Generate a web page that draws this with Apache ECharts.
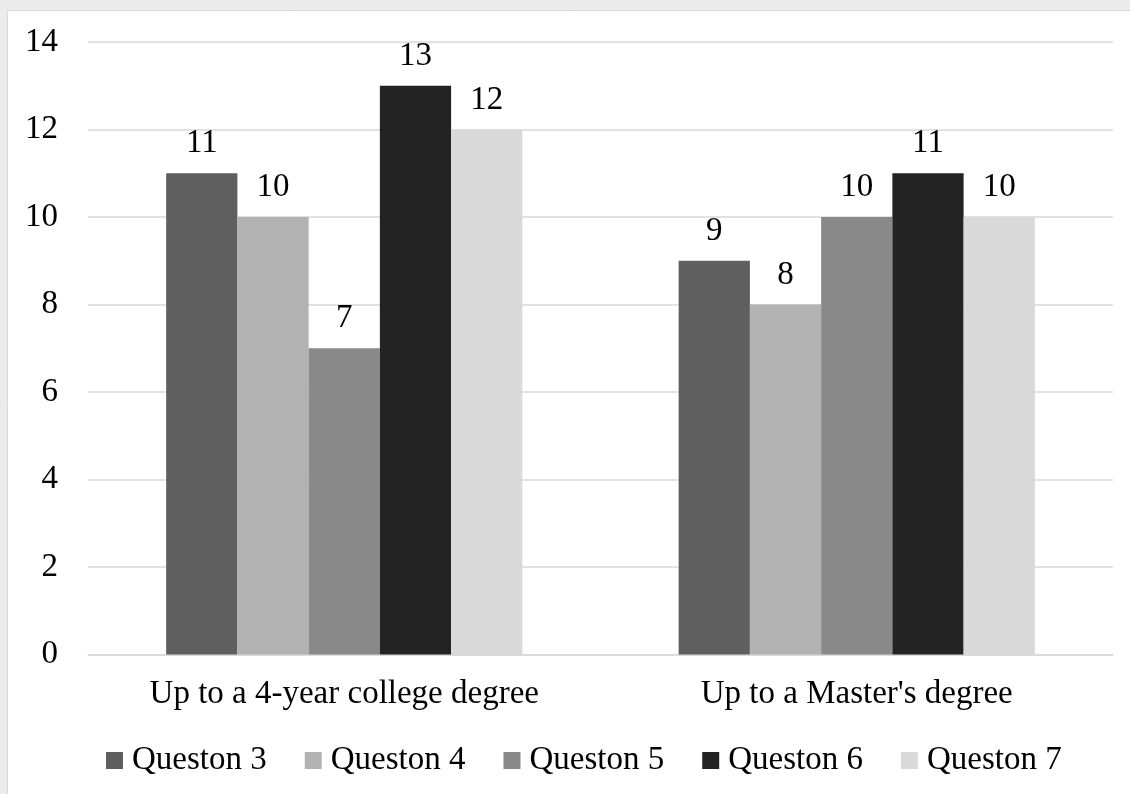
<!DOCTYPE html>
<html>
<head>
<meta charset="utf-8">
<script src="https://cdn.jsdelivr.net/npm/echarts@6/dist/echarts.min.js"></script>
<style>
  html, body { margin: 0; padding: 0; background: #ebebeb; }
  #chart { width: 1130px; height: 794px; }
</style>
</head>
<body>
<div id="chart"></div>
<script>
// Survey counts by education level, one series per question
const categories = ["Up to a 4-year college degree", "Up to a Master's degree"];
const seriesNames = ["Queston 3", "Queston 4", "Queston 5", "Queston 6", "Queston 7"];
const q3 = [11, 9];
const q4 = [10, 8];
const q5 = [7, 10];
const q6 = [13, 11];
const q7 = [12, 10];
const yTicks = { min: 0, max: 14, interval: 2 };

const seriesValues = [q3, q4, q5, q6, q7];
const colors = ['#5f5f5f', '#b2b2b2', '#898989', '#232323', '#d9d9d9'];
const FONT = 'Liberation Serif';
const FS = 33;

const chart = echarts.init(document.getElementById('chart'), null, { renderer: 'canvas' });

chart.setOption({
  backgroundColor: '#ebebeb',
  animation: false,
  color: colors,
  textStyle: { fontFamily: FONT, fontSize: FS, color: '#000' },
  graphic: [{
    type: 'rect',
    z: -10,
    silent: true,
    shape: { x: 7.5, y: 10.5, width: 1140, height: 800 },
    style: { fill: '#ffffff', stroke: '#d9d9d9', lineWidth: 1 }
  }],
  grid: { left: 88, right: 17, top: 42, bottom: 139.5, containLabel: false },
  legend: {
    data: seriesNames,
    left: 101,
    top: 739,
    icon: 'rect',
    itemWidth: 17,
    itemHeight: 17,
    itemGap: 38,
    textStyle: { fontFamily: FONT, fontSize: FS, color: '#000', padding: [0, 0, 0, 4] }
  },
  xAxis: {
    type: 'category',
    data: categories,
    axisLine: { lineStyle: { color: '#d9d9d9', width: 1.5 } },
    axisTick: { show: false },
    axisLabel: { fontFamily: FONT, fontSize: FS, color: '#000', margin: 23 }
  },
  yAxis: {
    type: 'value',
    min: yTicks.min,
    max: yTicks.max,
    interval: yTicks.interval,
    axisLine: { show: false },
    axisTick: { show: false },
    splitLine: { lineStyle: { color: '#d9d9d9', width: 1.5 } },
    axisLabel: { fontFamily: FONT, fontSize: FS, color: '#000', margin: 30 }
  },
  series: seriesNames.map((name, i) => ({
    name: name,
    type: 'bar',
    data: seriesValues[i],
    barGap: '0%',
    barCategoryGap: '30.5%',
    itemStyle: { color: colors[i] },
    label: {
      show: true,
      position: 'top',
      distance: 13,
      fontFamily: FONT,
      fontSize: FS,
      color: '#000'
    }
  }))
});
</script>
</body>
</html>
